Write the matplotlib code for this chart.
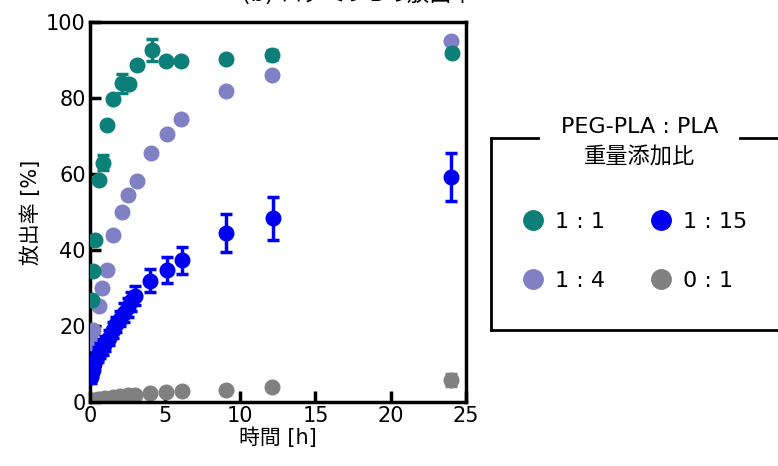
import numpy as np
import matplotlib.pyplot as plt
from matplotlib.lines import Line2D

plt.rcParams['font.family'] = ['DejaVu Sans', 'Noto Sans CJK JP']

# 1:1
t_11 = [0.1, 0.17, 0.33, 0.6, 0.85, 1.1, 1.5, 2.1, 2.6, 3.1, 4.1, 5.07, 6.07, 9.05, 12.1, 24.1]
v_11 = [26.8, 34.6, 42.6, 58.4, 63.0, 73.0, 79.7, 83.9, 83.8, 88.7, 92.6, 89.6, 89.6, 90.3, 91.3, 91.8]
e_11 = [0.5, 0.5, 0.5, 0.8, 2.0, 0.5, 0.8, 2.5, 0.8, 0.8, 3.0, 0.8, 0.8, 0.8, 1.2, 0.8]
# 1:4
t_14 = [0.05, 0.11, 0.22, 0.6, 0.82, 1.1, 1.55, 2.1, 2.55, 3.1, 4.07, 5.1, 6.07, 9.05, 12.1, 24.0]
v_14 = [9.7, 15.5, 18.9, 25.3, 29.9, 34.7, 44.0, 50.0, 54.5, 58.2, 65.4, 70.5, 74.5, 81.9, 86.0, 95.0]
# 1:15
t_115 = [0.083, 0.167, 0.25, 0.333, 0.5, 0.667, 0.833, 1, 1.25, 1.5, 1.75, 2, 2.25, 2.5, 2.75, 3, 4, 5.1, 6.1, 9.05, 12.2, 24.0]
v_115 = [6.5, 8.5, 10.0, 11.0, 12.5, 13.5, 14.5, 15.5, 17.0, 19.0, 20.5, 22.0, 23.5, 25.0, 26.5, 28.0, 31.9, 34.8, 37.3, 44.4, 48.3, 59.2]
e_115 = [1.5, 1.5, 1.5, 1.5, 2.0, 2.0, 2.0, 2.0, 2.0, 2.0, 2.0, 2.0, 2.5, 2.5, 2.5, 2.5, 3.0, 3.5, 3.5, 5.0, 5.7, 6.4]
# 0:1
t_01 = [0, 0.083, 0.167, 0.25, 0.5, 0.75, 1, 1.5, 2, 2.5, 3, 4, 5.07, 6.1, 9.05, 12.1, 24.0]
v_01 = [0, 0.2, 0.4, 0.5, 0.7, 0.9, 1.0, 1.3, 1.6, 1.8, 2.0, 2.3, 2.7, 3.0, 3.2, 4.0, 5.8]
e_01 = [0.2] * 16 + [1.5]

labels = ['1 : 1', '1 : 4', '1 : 15', '0 : 1']
c_11 = '#0c8078'
c_14 = '#8080c4'
c_115 = '#0000f0'
c_01 = '#808080'

fig = plt.figure(figsize=(7.78, 4.66), dpi=100)
ax = fig.add_axes([0.1157, 0.137, 0.483, 0.816])

ms = 10.5
eb = dict(fmt='o', ms=ms, capsize=4, elinewidth=2.5, capthick=2.5)
ax.errorbar(t_01, v_01, yerr=e_01, color=c_01, zorder=2, **eb)
ax.errorbar(t_11, v_11, yerr=e_11, color=c_11, zorder=3, **eb)
ax.plot(t_14, v_14, 'o', color=c_14, ms=ms, zorder=3)
ax.errorbar(t_115, v_115, yerr=e_115, color=c_115, zorder=4, **eb)

ax.set_xlim(0, 25)
ax.set_ylim(0, 100)
ax.set_xticks([0, 5, 10, 15, 20, 25])
ax.set_yticks([0, 20, 40, 60, 80, 100])
ax.tick_params(direction='in', length=8, width=2.5, labelsize=15, pad=3)
for s in ax.spines.values():
    s.set_linewidth(2.5)
ax.set_xlabel('時間 [h]', fontsize=15, labelpad=1)
ax.set_ylabel('放出率 [%]', fontsize=15, labelpad=4)

fig.text(0.46, 1.012, '(b) ロダミンBの放出率', fontsize=16, ha='center', va='center')

# legend
handles = [Line2D([], [], ls='', marker='o', color=c, ms=14) for c in (c_11, c_14, c_115, c_01)]
fig.legend(handles, labels, ncol=2, frameon=False, fontsize=16,
           loc='upper left', bbox_to_anchor=(0.671, 0.545), bbox_transform=fig.transFigure,
           handletextpad=0.5, columnspacing=2.0, labelspacing=1.75, handlelength=1.0,
           borderpad=0, borderaxespad=0)
fig.text(0.822, 0.696, 'PEG-PLA : PLA\n重量添加比', fontsize=16, ha='center', va='center', linespacing=1.55)

# legend frame with a gap for the title
y_top = 1 - 138 / 466
y_bot = 1 - 330 / 466
x_l = 491 / 778
lw = 2
fig.add_artist(Line2D([x_l, x_l], [y_bot, y_top], color='black', lw=lw))
fig.add_artist(Line2D([x_l, 1.0], [y_bot, y_bot], color='black', lw=lw))
fig.add_artist(Line2D([x_l, 538 / 778], [y_top, y_top], color='black', lw=lw))
fig.add_artist(Line2D([740 / 778, 1.0], [y_top, y_top], color='black', lw=lw))

fig.savefig('out.png', dpi=100)
